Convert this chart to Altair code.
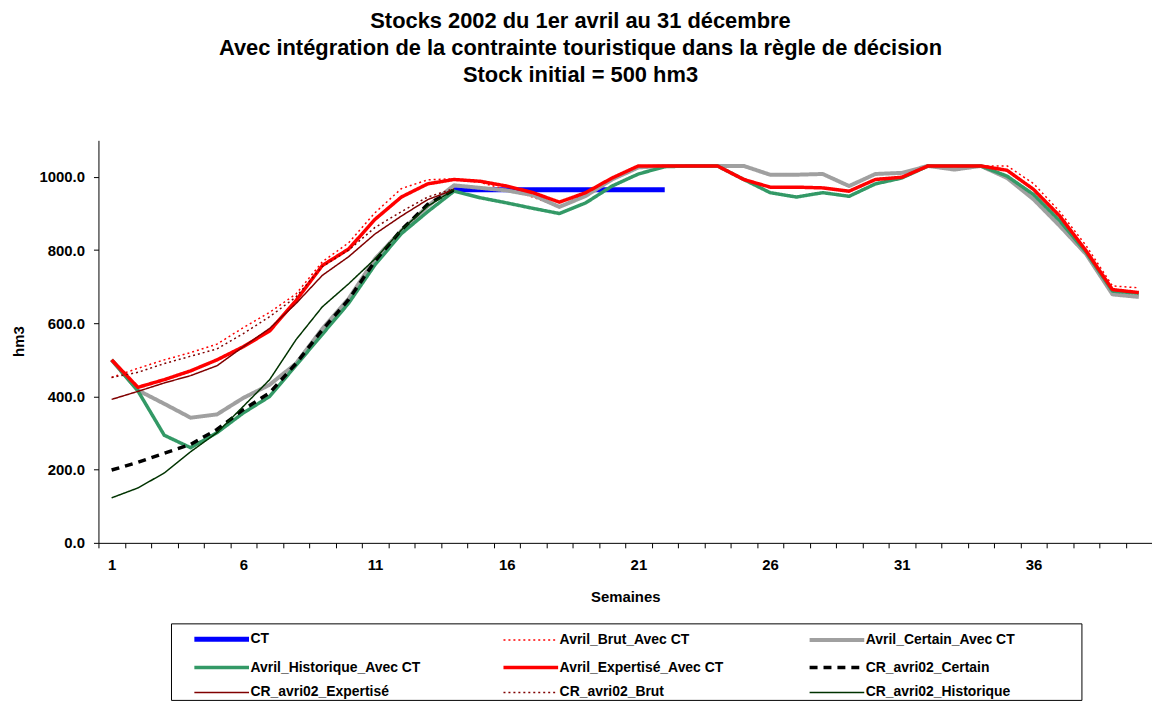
import altair as alt
import pandas as pd

FONT = "Liberation Sans, Arial"

weeks = list(range(1, 41))

series_names = [
    "CT",
    "Avril_Brut_Avec CT",
    "Avril_Certain_Avec CT",
    "Avril_Historique_Avec CT",
    "Avril_Expertisé_Avec CT",
    "CR_avri02_Certain",
    "CR_avri02_Expertisé",
    "CR_avri02_Brut",
    "CR_avri02_Historique",
]
series_colors = ["#0000FF", "#FF0000", "#A0A0A0", "#339966", "#FF0000",
                 "#000000", "#800000", "#800000", "#003300"]
series_widths = [5, 1.5, 4, 3.5, 3.5, 3.5, 1.5, 1.5, 1.5]
series_dashes = [[1, 0], [2, 3], [1, 0], [1, 0], [1, 0], [8, 6], [1, 0], [2, 3], [1, 0]]

ct_weeks = [14, 15, 16, 17, 18, 19, 20, 21, 22]
ct = [965, 965, 965, 965, 965, 965, 965, 965, 965]

avril_brut = [452, 477, 500, 520, 543, 588, 630, 680, 768, 820,
              902, 968, 992, 995, 985, 965, 945, 918, 955, 995,
              1030, 1030, 1030, 1030, 995, 972, 972, 970, 962, 995,
              1000, 1030, 1030, 1030, 1030, 982, 905, 812, 702, 697]
avril_certain = [500, 417, 380, 342, 351, 396, 432, 490, 585, 667,
                 776, 853, 920, 977, 970, 963, 950, 918, 948, 993,
                 1026, 1030, 1030, 1030, 1030, 1006, 1006, 1008, 975, 1008,
                 1011, 1030, 1020, 1030, 997, 939, 866, 789, 679, 672]
avril_historique = [500, 415, 294, 260, 301, 355, 400, 485, 570, 655,
                    760, 845, 905, 961, 943, 929, 914, 900, 929, 975,
                    1008, 1028, 1030, 1030, 993, 957, 945, 957, 947, 981,
                    997, 1030, 1030, 1030, 1002, 952, 880, 794, 688, 682]
avril_expertise = [500, 425, 446, 470, 500, 536, 579, 662, 758, 803,
                   884, 945, 981, 993, 988, 975, 957, 931, 957, 997,
                   1030, 1030, 1030, 1030, 993, 972, 972, 970, 961, 993,
                   999, 1030, 1030, 1030, 1018, 966, 893, 798, 692, 684]

cr_weeks = list(range(1, 15))
cr_certain = [199, 220, 245, 269, 310, 364, 410, 490, 582, 665, 770, 855, 925, 965]
cr_expertise = [392, 414, 437, 457, 484, 536, 586, 654, 731, 782, 844, 893, 938, 965]
cr_brut = [452, 466, 490, 510, 530, 572, 618, 672, 755, 800, 862, 905, 945, 968]
cr_historique = [123, 150, 191, 249, 301, 373, 446, 555, 645, 708, 776, 855, 920, 965]

x_label_weeks = [1, 6, 11, 16, 21, 26, 31, 36]
y_ticks = [0, 200, 400, 600, 800, 1000]

series_data = [
    (ct_weeks, ct),
    (weeks, avril_brut),
    (weeks, avril_certain),
    (weeks, avril_historique),
    (weeks, avril_expertise),
    (cr_weeks, cr_certain),
    (cr_weeks, cr_expertise),
    (cr_weeks, cr_brut),
    (cr_weeks, cr_historique),
]

rows = []
for name, (xs, ys) in zip(series_names, series_data):
    for w, v in zip(xs, ys):
        rows.append({"series": name, "week": w, "stock": v})
df = pd.DataFrame(rows)

x_ticks = [w - 0.5 for w in weeks] + [weeks[-1] + 0.5]
label_expr = ("indexof([" + ",".join(str(v) for v in x_label_weeks) +
              "], datum.value + 0.5) >= 0 ? format(datum.value + 0.5, 'd') : ''")

legend = alt.Legend(
    title=None,
    orient="none",
    direction="horizontal",
    legendX=73,
    legendY=486,
    columns=3,
    padding=0,
    strokeColor="#000000",
    fillColor="#FFFFFF",
    # visible stroke of 55 px, plus an invisible zero-length point that sets the entry width
    symbolType="M-2.037,0H2.037M17.59,0h0",
    symbolSize=729,
    symbolOffset=35,
    labelOffset=13,
    rowPadding=3,
    columnPadding=12,
    labelFont=FONT,
    labelFontSize=14,
    labelFontWeight="bold",
    labelColor="#000000",
    labelLimit=500,
)

chart = alt.Chart(df).mark_line(strokeCap="butt", strokeJoin="round").encode(
    x=alt.X("week:Q",
            scale=alt.Scale(domain=[0.5, 40.5], nice=False, zero=False),
            axis=alt.Axis(values=x_ticks, labelExpr=label_expr, labelFlush=False,
                          labelOffset=13.25, labelOverlap=False, grid=False,
                          tickSize=5, labelPadding=10,
                          labelFont=FONT, labelFontSize=15, labelFontWeight="bold",
                          title="Semaines", titleY=54, titleBaseline="middle")),
    y=alt.Y("stock:Q",
            scale=alt.Scale(domain=[0, 1100], nice=False),
            axis=alt.Axis(values=y_ticks, format=".1f", grid=False, tickSize=5,
                          labelFont=FONT, labelFontSize=15, labelFontWeight="bold",
                          labelPadding=9, title="hm3", titleX=-80, titleY=202,
                          titleBaseline="middle", titleAngle=-90)),
    color=alt.Color("series:N", scale=alt.Scale(domain=series_names, range=series_colors),
                    legend=legend),
    strokeDash=alt.StrokeDash("series:N",
                              scale=alt.Scale(type="ordinal", domain=series_names, range=series_dashes),
                              legend=legend),
    strokeWidth=alt.StrokeWidth("series:N",
                                scale=alt.Scale(type="ordinal", domain=series_names, range=series_widths),
                                legend=legend),
    detail="series:N",
).properties(
    width=1060,
    height=405,
    autosize=alt.AutoSizeParams(type="none"),
    padding={"left": 91, "top": 131, "right": 0, "bottom": 160},
    title=alt.TitleParams(
        text=["Stocks 2002 du 1er avril au 31 décembre",
              "Avec intégration de la contrainte touristique dans la règle de décision",
              "Stock initial = 500 hm3"],
        font=FONT, fontSize=22, fontWeight="bold", color="#000000",
        anchor="middle", dx=-45, lineHeight=27, offset=54,
    ),
).configure_view(
    stroke="transparent"
).configure_axis(
    domainColor="#000000",
    tickColor="#000000",
    labelColor="#000000",
    titleColor="#000000",
    labelFont=FONT,
    labelFontSize=15,
    labelFontWeight="bold",
    titleFont=FONT,
    titleFontSize=15,
    titleFontWeight="bold",
)

chart.save("out.html", embed_options={"renderer": "svg", "actions": False})
